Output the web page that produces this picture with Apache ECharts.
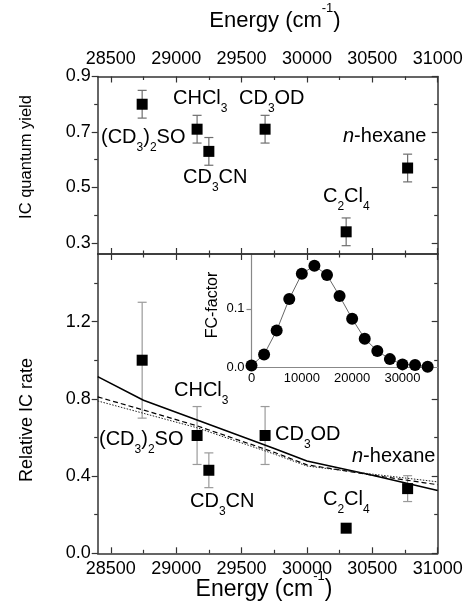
<!DOCTYPE html>
<html>
<head>
<meta charset="utf-8">
<title>IC quantum yield and relative IC rate</title>
<script src="https://cdn.jsdelivr.net/npm/echarts@6/dist/echarts.min.js"></script>
<style>
  html, body { margin: 0; padding: 0; background: #fff; }
  #chart { width: 465px; height: 608px; }
</style>
</head>
<body>
<div id="chart"></div>
<script>
const FONT = '"Liberation Sans", Arial, Helvetica, sans-serif';
const FRAME = "#333";

// solvents, in the order they are plotted
const solvents = ["(CD3)2SO", "CHCl3", "CD3CN", "CD3OD", "C2Cl4", "n-hexane"];
const energy = [28740, 29160, 29250, 29680, 30300, 30770];
const icYield = [0.80, 0.71, 0.63, 0.71, 0.34, 0.57];
const icYieldErr = [0.05, 0.05, 0.05, 0.05, 0.05, 0.05];
const relRate = [1.00, 0.61, 0.43, 0.61, 0.13, 0.335];
const relRateErr = [0.30, 0.15, 0.09, 0.15, 0, 0.067];

// calculated curves (bottom panel)
const curveEnergy = [28400, 28750, 29160, 29750, 30000, 30500, 31000];
const rateSolid = [0.915, 0.793, 0.69, 0.543, 0.478, 0.404, 0.325];
const rateDashed = [0.81, 0.742, 0.66, 0.523, 0.458, 0.405, 0.355];
const rateDotted = [0.789, 0.725, 0.65, 0.514, 0.452, 0.41, 0.37];

// inset
const fcEnergy = [0, 2500, 5000, 7500, 10000, 12500, 15000, 17500, 20000, 22500, 25000, 27500, 30000, 32500, 35000];
const fcFactor = [0.003, 0.022, 0.063, 0.117, 0.16, 0.174, 0.158, 0.122, 0.083, 0.049, 0.028, 0.014, 0.005, 0.004, 0.001];

// ticks
const energyTicks = [28500, 29000, 29500, 30000, 30500, 31000];
const energyMinor = [28750, 29250, 29750, 30250, 30750];
const yieldTicks = [0.3, 0.5, 0.7, 0.9];
const yieldMinor = [0.4, 0.6, 0.8];
const rateTicks = [0, 0.4, 0.8, 1.2];
const rateMinor = [0.2, 0.6, 1.0, 1.4];
const fcEnergyTicks = [0, 10000, 20000, 30000];
const fcTicks = [0, 0.1];

// solvent labels as rich text
const solventRich = [
  "{n|(CD}{s|3}{n|)}{s|2}{n|SO}",
  "{n|CHCl}{s|3}",
  "{n|CD}{s|3}{n|CN}",
  "{n|CD}{s|3}{n|OD}",
  "{n|C}{s|2}{n|Cl}{s|4}",
  "{i|n}{n|-hexane}"
];
// [left, middle] of each label, pixels
const topLabelPos = [[101, 138], [173, 99], [183, 178], [239, 99], [323, 197], [343, 137]];
const bottomLabelPos = [[99, 440], [174, 391], [190, 502], [275, 435], [323, 500], [352, 457]];

const chart = echarts.init(document.getElementById("chart"), null, { renderer: "canvas" });

const labelRich = {
  n: { fontSize: 20, lineHeight: 22, verticalAlign: "top", fontFamily: FONT, fill: "#000" },
  i: { fontSize: 20, lineHeight: 22, verticalAlign: "top", fontFamily: FONT, fontStyle: "italic", fill: "#000" },
  s: { fontSize: 12, lineHeight: 12, verticalAlign: "top", padding: [15, 0, 0, 0], fontFamily: FONT, fill: "#000" }
};

function titleRich(size) {
  return {
    n: { fontSize: size, lineHeight: size + 3, verticalAlign: "top", padding: [8, 0, 0, 0], fontFamily: FONT, fill: "#000" },
    p: { fontSize: 13, lineHeight: 13, verticalAlign: "top", fontFamily: FONT, fill: "#000" }
  };
}

const fmt1 = function (v) { return v.toFixed(1); };
const fmt0 = function (v) { return String(Math.round(v)); };

function frameAxes(gridIndex, pos, min, max, majors, minors, inside, label) {
  const base = { type: "value", gridIndex: gridIndex, position: pos, min: min, max: max, splitLine: { show: false } };
  const major = Object.assign({}, base, {
    axisLine: { show: true, onZero: false, lineStyle: { color: FRAME, width: 1.5 } },
    axisTick: { show: true, inside: inside, length: 6, customValues: majors, lineStyle: { color: FRAME, width: 1.2 } },
    axisLabel: label ? Object.assign({
      show: true, customValues: majors, color: "#000", fontSize: 18, fontFamily: FONT
    }, label) : { show: false }
  });
  const minor = Object.assign({}, base, {
    axisLine: { show: false, onZero: false },
    axisTick: { show: true, inside: inside, length: 3.5, customValues: minors, lineStyle: { color: FRAME, width: 1.2 } },
    axisLabel: { show: false }
  });
  return [major, minor];
}

const xAxes = [].concat(
  frameAxes(0, "top", 28400, 31000, energyTicks, energyMinor, true, { margin: 8, formatter: fmt0 }),    // 0,1
  frameAxes(0, "bottom", 28400, 31000, energyTicks, energyMinor, true, null),                         // 2,3
  frameAxes(1, "bottom", 28400, 31000, energyTicks, energyMinor, true, { margin: 7, formatter: fmt0 }), // 4,5
  frameAxes(1, "top", 28400, 31000, energyTicks, energyMinor, true, null),                            // 6,7
  [{
    type: "value", gridIndex: 2, position: "bottom", min: 0, max: 37000,
    splitLine: { show: false },
    axisLine: { show: true, onZero: false, lineStyle: { color: "#888", width: 1.2 } },
    axisTick: { show: false },
    axisLabel: { show: true, customValues: fcEnergyTicks, margin: 5, color: "#000", fontSize: 13, fontFamily: FONT, formatter: fmt0 }
  }]                                                                                                   // 8
);

const yAxes = [].concat(
  frameAxes(0, "left", 0.26, 0.9, yieldTicks, yieldMinor, false, { margin: 7, formatter: fmt1 }), // 0,1
  frameAxes(0, "right", 0.26, 0.9, yieldTicks, yieldMinor, true, null),                          // 2,3
  frameAxes(1, "left", 0, 1.55, rateTicks, rateMinor, false, { margin: 7, formatter: fmt1 }),     // 4,5
  frameAxes(1, "right", 0, 1.55, rateTicks, rateMinor, true, null),                               // 6,7
  [{
    type: "value", gridIndex: 2, position: "left", min: 0, max: 0.194,
    splitLine: { show: false },
    axisLine: { show: true, onZero: false, lineStyle: { color: "#888", width: 1.2 } },
    axisTick: { show: true, length: 5, customValues: fcTicks, lineStyle: { color: "#888", width: 1.2 } },
    axisLabel: { show: true, customValues: fcTicks, margin: 7, color: "#000", fontSize: 13, fontFamily: FONT, formatter: fmt1 }
  }]                                                                                               // 8
);

function errorBar(color) {
  return function (params, api) {
    const x = api.value(0);
    const hi = api.coord([x, api.value(2)]);
    const lo = api.coord([x, api.value(1)]);
    const w = 4.5;
    const style = { stroke: color, lineWidth: 1.2 };
    return {
      type: "group",
      children: [
        { type: "line", shape: { x1: hi[0], y1: hi[1], x2: lo[0], y2: lo[1] }, style: style },
        { type: "line", shape: { x1: hi[0] - w, y1: hi[1], x2: hi[0] + w, y2: hi[1] }, style: style },
        { type: "line", shape: { x1: lo[0] - w, y1: lo[1], x2: lo[0] + w, y2: lo[1] }, style: style }
      ]
    };
  };
}

function errData(vals, errs) {
  const out = [];
  energy.forEach(function (e, i) {
    if (errs[i] > 0) out.push([e, vals[i] - errs[i], vals[i] + errs[i]]);
  });
  return out;
}

function pairs(xs, ys) {
  return xs.map(function (x, i) { return [x, ys[i]]; });
}

function curve(name, ys, lineType, width, color) {
  return {
    name: name, type: "line", xAxisIndex: 4, yAxisIndex: 4,
    data: pairs(curveEnergy, ys), symbol: "none", smooth: false,
    lineStyle: { color: color, width: width, type: lineType }, z: 3
  };
}

const graphics = [];
function addTitle(text, x, y, size, rotate) {
  graphics.push({
    type: "text", x: x, y: y, rotation: rotate ? Math.PI / 2 : 0,
    style: { text: text, fontSize: size, fontFamily: FONT, fill: "#000", align: "center", verticalAlign: "middle" }
  });
}
function addRichTitle(text, x, y, size) {
  graphics.push({
    type: "text", x: x, y: y,
    style: { text: text, rich: titleRich(size), align: "center", verticalAlign: "top", fill: "#000" }
  });
}
function addLabels(pos) {
  solventRich.forEach(function (t, i) {
    graphics.push({
      type: "text", x: pos[i][0], y: pos[i][1] - 11,
      style: { text: t, rich: labelRich, align: "left", verticalAlign: "top", fill: "#000" }
    });
  });
}

addRichTitle("{n|Energy (cm}{p|-1}{n|)}", 275, 2, 22);
addRichTitle("{n|Energy (cm}{p|-1}{n|)}", 264, 570, 23);
addTitle("IC quantum yield", 26, 157, 16.5, true);
addTitle("Relative IC rate", 27, 420, 18, true);
addTitle("FC-factor", 213, 305, 16, true);
addLabels(topLabelPos);
addLabels(bottomLabelPos);

const option = {
  animation: false,
  backgroundColor: "#fff",
  grid: [
    { left: 97.7, top: 76.5, width: 340, height: 177.5, outerBoundsMode: "none" },
    { left: 97.7, top: 254, width: 340, height: 299.3, outerBoundsMode: "none" },
    { left: 251.5, top: 254, width: 186.2, height: 113.3, outerBoundsMode: "none" }
  ],
  xAxis: xAxes,
  yAxis: yAxes,
  series: [
    {
      type: "custom", xAxisIndex: 0, yAxisIndex: 0,
      renderItem: errorBar("#6e6e6e"), encode: { x: 0, y: [1, 2] },
      data: errData(icYield, icYieldErr), z: 2
    },
    {
      name: "IC quantum yield", type: "scatter", xAxisIndex: 0, yAxisIndex: 0,
      data: pairs(energy, icYield), symbol: "rect", symbolSize: 11,
      itemStyle: { color: "#000", opacity: 1 }, z: 4
    },
    curve("calc 1", rateSolid, "solid", 1.6, "#000"),
    curve("calc 2", rateDashed, [5, 3], 1.2, "#000"),
    curve("calc 3", rateDotted, [1.5, 1.5], 1, "#222"),
    {
      type: "custom", xAxisIndex: 4, yAxisIndex: 4,
      renderItem: errorBar("#9a9a9a"), encode: { x: 0, y: [1, 2] },
      data: errData(relRate, relRateErr), z: 2
    },
    {
      name: "Relative IC rate", type: "scatter", xAxisIndex: 4, yAxisIndex: 4,
      data: pairs(energy, relRate), symbol: "rect", symbolSize: 11,
      itemStyle: { color: "#000", opacity: 1 }, z: 4
    },
    {
      name: "FC-factor", type: "line", xAxisIndex: 8, yAxisIndex: 8,
      data: pairs(fcEnergy, fcFactor), symbol: "circle", symbolSize: 12,
      showSymbol: true, showAllSymbol: true, clip: false,
      lineStyle: { color: "#666", width: 1 }, itemStyle: { color: "#000", opacity: 1 }, z: 5
    }
  ],
  graphic: graphics
};

chart.setOption(option);
</script>
</body>
</html>
